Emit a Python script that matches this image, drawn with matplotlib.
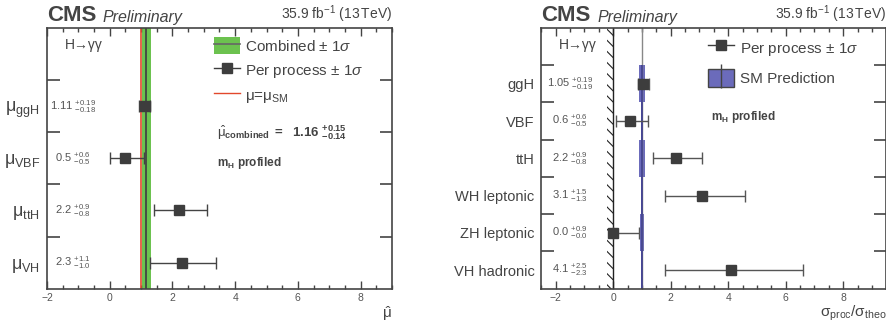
import numpy as np
import matplotlib.pyplot as plt
from matplotlib.patches import Patch
from matplotlib.lines import Line2D
from matplotlib.ticker import MultipleLocator, FixedLocator, NullFormatter

plt.rcParams['font.family'] = ['Liberation Sans', 'DejaVu Sans']
plt.rcParams['mathtext.fontset'] = 'custom'
plt.rcParams['mathtext.rm'] = 'Liberation Sans'
plt.rcParams['mathtext.it'] = 'Liberation Sans:italic'
plt.rcParams['mathtext.bf'] = 'Liberation Sans:bold'
plt.rcParams['hatch.linewidth'] = 0.8

# Left panel: signal strengths per production mode
mu_labels = ['ggH', 'VBF', 'ttH', 'VH']
mu_val = [1.11, 0.5, 2.2, 2.3]
mu_up = [0.19, 0.6, 0.9, 1.1]
mu_dn = [0.18, 0.5, 0.8, 1.0]
mu_txt = ['1.11', '0.5', '2.2', '2.3']
mu_up_txt = ['+0.19', '+0.6', '+0.9', '+1.1']
mu_dn_txt = ['-0.18', '-0.5', '-0.8', '-1.0']
mu_comb = 1.16
mu_comb_up = 0.15
mu_comb_dn = 0.14

# Right panel: cross sections relative to SM
xs_labels = ['ggH', 'VBF', 'ttH', 'WH leptonic', 'ZH leptonic', 'VH hadronic']
xs_val = [1.05, 0.6, 2.2, 3.1, 0.0, 4.1]
xs_up = [0.19, 0.6, 0.9, 1.5, 0.9, 2.5]
xs_dn = [0.19, 0.5, 0.8, 1.3, 0.0, 2.3]
xs_txt = ['1.05', '0.6', '2.2', '3.1', '0.0', '4.1']
xs_up_txt = ['+0.19', '+0.6', '+0.9', '+1.5', '+0.9', '+2.5']
xs_dn_txt = ['-0.19', '-0.5', '-0.8', '-1.3', '-0.0', '-2.3']
sm_unc = [0.1, 0.03, 0.11, 0.04, 0.06, 0.04]

dark = '#444444'
mk = '#3d3d3d'
green = '#6cc24f'
red = '#e2482c'
blue_fill = '#6b6bbb'
blue_line = '#3b3b8f'


def style_axes(ax, nrows, xlim):
    ax.set_xlim(*xlim)
    ax.set_ylim(0, nrows + 1)
    for s in ax.spines.values():
        s.set_color(dark)
        s.set_linewidth(1.2)
    ax.xaxis.set_major_locator(MultipleLocator(2))
    ax.xaxis.set_minor_locator(MultipleLocator(0.5))
    ax.tick_params(axis='x', which='major', direction='in', top=True, length=6,
                   width=1, color=dark, labelsize=7.5, labelcolor='#555555', pad=3)
    ax.tick_params(axis='x', which='minor', direction='in', top=True, length=3,
                   width=1, color=dark)
    ax.yaxis.set_major_locator(FixedLocator(np.arange(1, nrows + 1)))
    ax.yaxis.set_major_formatter(NullFormatter())
    ax.tick_params(axis='y', which='major', direction='in', right=True, length=9,
                   width=1.2, color=dark)
    ax.yaxis.set_minor_locator(FixedLocator(np.arange(nrows) + 0.5))
    ax.tick_params(axis='y', which='minor', length=0, pad=5, labelcolor=dark)


def header(ax):
    ax.text(0.0, 1.008, 'CMS', transform=ax.transAxes, fontsize=16,
            fontweight='bold', color=dark, ha='left', va='bottom')
    ax.text(0.162, 1.012, 'Preliminary', transform=ax.transAxes, fontsize=11.5,
            style='italic', color=dark, ha='left', va='bottom')
    ax.text(1.0, 1.012, r'35.9 fb$^{-1}$ (13$\,$TeV)', transform=ax.transAxes,
            fontsize=10, color=dark, ha='right', va='bottom')
    ax.text(0.106, 0.935, 'H\u2192\u03b3\u03b3', transform=ax.transAxes,
            fontsize=10, color=dark, ha='center', va='center')


fig = plt.figure(figsize=(8.86, 3.24), dpi=100)

# ---------------- left panel ----------------
ax1 = fig.add_axes([0.053, 0.109, 0.3894, 0.8046])
n1 = len(mu_labels)
y1 = n1 - np.arange(n1) - 0.5
style_axes(ax1, n1, (-2, 9))
ax1.set_yticks(y1, [r'$\mathrm{\mu}_{\mathrm{%s}}$' % l for l in mu_labels],
               minor=True, fontsize=13)

ax1.axvspan(mu_comb - mu_comb_dn, mu_comb + mu_comb_up, color=green, lw=0)
ax1.axvline(1.0, color=red, lw=1.2)
ax1.axvline(mu_comb, color=dark, lw=1.3)
ax1.errorbar(mu_val, y1, xerr=[mu_dn, mu_up], fmt='s', color=mk, ms=7,
             ecolor=dark, elinewidth=1, capsize=4, capthick=1)
for i in range(n1):
    ax1.text(0.075, (y1[i]) / (n1 + 1), r'%s $^{%s}_{%s}$' % (mu_txt[i], mu_up_txt[i], mu_dn_txt[i]),
             transform=ax1.transAxes, fontsize=8, color='#555555',
             ha='center', va='center')

h_comb = (Patch(facecolor=green, edgecolor='none'), Line2D([], [], color='#666666', lw=1.2))
h_proc = Line2D([], [], color=mk, lw=1, marker='s', ms=7)
h_sm = Line2D([], [], color=red, lw=1)
ax1.legend([h_comb, h_proc, h_sm],
           [r'Combined $\pm$ 1$\sigma$', r'Per process $\pm$ 1$\sigma$',
            r'$\mathrm{\mu}$=$\mathrm{\mu}_{\mathrm{SM}}$'],
           loc='upper left', bbox_to_anchor=(0.484, 0.966), frameon=False,
           fontsize=11, handlelength=1.7, handleheight=1.35, handletextpad=0.35,
           labelspacing=0.45, borderpad=0, borderaxespad=0, labelcolor=dark)
ax1.text(0.493, 0.597,
         r'$\hat{\mathrm{\mu}}_{\mathbf{combined}}\ \mathbf{=}\ \ \mathbf{%.2f}\ ^{\mathbf{+%.2f}}_{\mathbf{-%.2f}}$'
         % (mu_comb, mu_comb_up, mu_comb_dn),
         transform=ax1.transAxes, fontsize=9.5, color=dark, ha='left', va='center')
ax1.text(0.493, 0.482, r'$\mathbf{m}_{\mathbf{H}}$ $\mathbf{profiled}$', transform=ax1.transAxes,
         fontsize=8.5, color=dark, ha='left', va='center')
ax1.set_xlabel(r'$\hat{\mathrm{\mu}}$', fontsize=11, color=dark, ha='right', va='center')
ax1.xaxis.set_label_coords(1.0, -0.095, transform=ax1.transAxes)
header(ax1)

# ---------------- right panel ----------------
ax2 = fig.add_axes([0.611, 0.109, 0.3894, 0.8046])
n2 = len(xs_labels)
y2 = n2 - np.arange(n2) - 0.5
style_axes(ax2, n2, (-2.5, 9.5))
ax2.set_yticks(y2, xs_labels, minor=True, fontsize=10.5)

ax2.axvspan(-0.2, 0, facecolor='none', edgecolor='#222222', hatch='\\\\\\', lw=0)
ax2.axvline(0, color='#222222', lw=1)
ax2.axvline(1.0, color='#888888', lw=1)
sm_left = [1 - u for u in sm_unc]
ax2.barh(y2, [2 * u for u in sm_unc], left=sm_left, height=1.0,
         color=blue_fill, edgecolor='none')
ax2.vlines(np.ones(n2), y2 - 0.5, y2 + 0.5, color=blue_line, lw=1.1)
ax2.errorbar(xs_val, y2, xerr=[xs_dn, xs_up], fmt='s', color=mk, ms=7,
             ecolor='#555555', elinewidth=1, capsize=4, capthick=1)
for i in range(n2):
    ax2.text(0.083, (y2[i]) / (n2 + 1), r'%s $^{%s}_{%s}$' % (xs_txt[i], xs_up_txt[i], xs_dn_txt[i]),
             transform=ax2.transAxes, fontsize=8, color='#555555',
             ha='center', va='center')

h_smbox = (Patch(facecolor=blue_fill, edgecolor=dark, lw=1),
           Line2D([], [], color=dark, lw=0, marker='|', ms=17, mew=1))
ax2.legend([h_proc, h_smbox], [r'Per process $\pm$ 1$\sigma$', 'SM Prediction'],
           loc='upper left', bbox_to_anchor=(0.482, 0.96), frameon=False,
           fontsize=11, handlelength=1.7, handleheight=1.45, handletextpad=0.4,
           labelspacing=0.75, borderpad=0, borderaxespad=0, labelcolor=dark)
ax2.text(0.491, 0.659, r'$\mathbf{m}_{\mathbf{H}}$ $\mathbf{profiled}$', transform=ax2.transAxes,
         fontsize=8.5, color=dark, ha='left', va='center')
ax2.set_xlabel(r'$\mathrm{\sigma}_{\mathrm{proc}}/\mathrm{\sigma}_{\mathrm{theo}}$',
               fontsize=11, color=dark, ha='right', va='center')
ax2.xaxis.set_label_coords(1.0, -0.095, transform=ax2.transAxes)
header(ax2)

fig.savefig('out.png', dpi=100)
